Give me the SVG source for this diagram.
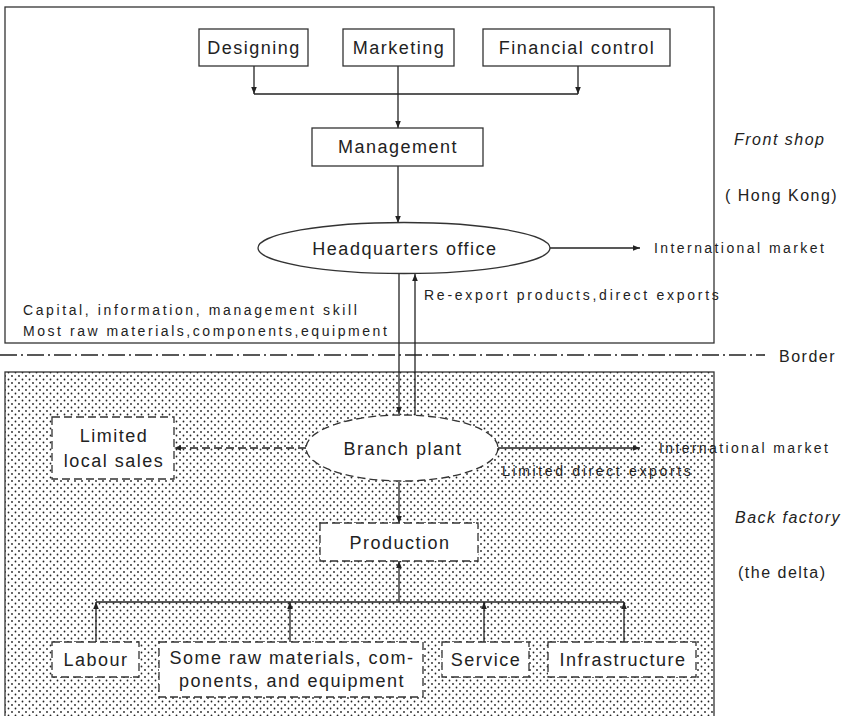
<svg xmlns="http://www.w3.org/2000/svg" width="867" height="716" viewBox="0 0 867 716">
<defs>
<pattern id="dots" width="7" height="7" patternUnits="userSpaceOnUse">
<circle cx="1.5" cy="1.5" r="0.9" fill="#222"/>
<circle cx="5" cy="5" r="0.9" fill="#222"/>
</pattern>
<marker id="ah" viewBox="0 0 10 10" refX="10" refY="5" markerWidth="9" markerHeight="7" markerUnits="userSpaceOnUse" orient="auto">
<path d="M0,1 L10,5 L0,9 Z" fill="#222"/>
</marker>
</defs>
<style>
.t{font-family:"Liberation Sans",Arial,sans-serif;fill:#222}
.n{font-size:18px;letter-spacing:1.5px}
.s{font-size:14px;letter-spacing:1.2px}
.i{font-style:italic;font-size:16px;letter-spacing:1.5px}
.box{fill:#fff;stroke:#333;stroke-width:1.3}
.dbox{fill:#fff;stroke:#333;stroke-width:1.3;stroke-dasharray:8 4}
.ln{fill:none;stroke:#222;stroke-width:1.3}
.dln{fill:none;stroke:#222;stroke-width:1.3;stroke-dasharray:8 4}
</style>
<rect width="867" height="716" fill="#fff"/>

<g id="regions">
<rect x="5" y="7" width="709" height="336" fill="none" stroke="#333" stroke-width="1.3"/>
<rect x="5" y="372" width="709" height="350" fill="url(#dots)" stroke="#333" stroke-width="1.3"/>
<line x1="0" y1="355" x2="765" y2="355" stroke="#222" stroke-width="1.6" stroke-dasharray="17 4 2 4"/>
<text class="t" x="779" y="362" font-size="16" letter-spacing="1.5">Border</text>
<text class="t i" x="734" y="145">Front shop</text>
<text class="t" x="725" y="201" font-size="16" letter-spacing="1.5">( Hong Kong)</text>
<text class="t i" x="735" y="523">Back factory</text>
<text class="t" x="738" y="578" font-size="16" letter-spacing="1.5">(the delta)</text>
</g>

<g id="connectors">
<line class="ln" x1="254" y1="66" x2="254" y2="94" marker-end="url(#ah)"/>
<line class="ln" x1="578" y1="66" x2="578" y2="94" marker-end="url(#ah)"/>
<line class="ln" x1="254" y1="94" x2="578" y2="94"/>
<line class="ln" x1="398" y1="66" x2="398" y2="128" marker-end="url(#ah)"/>
<line class="ln" x1="398" y1="166" x2="398" y2="223" marker-end="url(#ah)"/>
<line class="ln" x1="550" y1="248" x2="640" y2="248" marker-end="url(#ah)"/>
<line class="ln" x1="399" y1="274" x2="399" y2="414" marker-end="url(#ah)"/>
<line class="ln" x1="415" y1="416" x2="415" y2="274" marker-end="url(#ah)"/>
<line class="dln" x1="306" y1="448" x2="174" y2="448" marker-end="url(#ah)"/>
<line class="ln" x1="498" y1="448" x2="640" y2="448" marker-end="url(#ah)"/>
<line class="ln" x1="399" y1="482" x2="399" y2="523" marker-end="url(#ah)"/>
<line class="ln" x1="399" y1="602" x2="399" y2="561" marker-end="url(#ah)"/>
<line class="ln" x1="96" y1="602" x2="624" y2="602"/>
<line class="ln" x1="96" y1="642" x2="96" y2="602" marker-end="url(#ah)"/>
<line class="ln" x1="290" y1="642" x2="290" y2="602" marker-end="url(#ah)"/>
<line class="ln" x1="484" y1="642" x2="484" y2="602" marker-end="url(#ah)"/>
<line class="ln" x1="624" y1="642" x2="624" y2="602" marker-end="url(#ah)"/>
</g>

<g id="labels">
<text class="t s" x="654" y="253" textLength="171">International market</text>
<text class="t s" x="424" y="300" textLength="296">Re-export products,direct exports</text>
<text class="t s" x="23" y="315" textLength="335">Capital, information, management skill</text>
<text class="t s" x="23" y="336" textLength="365">Most raw materials,components,equipment</text>
<text class="t s" x="659" y="453" textLength="170">International market</text>
<text class="t s" x="502" y="476" textLength="190">Limited direct exports</text>
</g>

<g id="designing">
<rect class="box" x="199" y="29" width="109" height="37"/>
<text class="t n" x="254" y="54" text-anchor="middle">Designing</text>
</g>
<g id="marketing">
<rect class="box" x="343" y="29" width="111" height="37"/>
<text class="t n" x="399" y="54" text-anchor="middle">Marketing</text>
</g>
<g id="financial">
<rect class="box" x="483" y="29" width="187" height="37"/>
<text class="t n" x="577" y="54" text-anchor="middle">Financial control</text>
</g>
<g id="management">
<rect class="box" x="312" y="128" width="171" height="38"/>
<text class="t n" x="398" y="153" text-anchor="middle">Management</text>
</g>
<g id="hq">
<ellipse class="box" cx="404" cy="248" rx="146" ry="25.5"/>
<text class="t n" x="405" y="255" text-anchor="middle">Headquarters office</text>
</g>
<g id="branch">
<ellipse class="dbox" cx="402" cy="448" rx="96" ry="33"/>
<text class="t n" x="403" y="455" text-anchor="middle">Branch plant</text>
</g>
<g id="localsales">
<rect class="dbox" x="52" y="417" width="122" height="62"/>
<text class="t n" x="114" y="442" text-anchor="middle">Limited</text>
<text class="t n" x="114" y="467" text-anchor="middle">local sales</text>
</g>
<g id="production">
<rect class="dbox" x="320" y="523" width="158" height="38"/>
<text class="t n" x="400" y="549" text-anchor="middle">Production</text>
</g>
<g id="labour">
<rect class="dbox" x="52" y="642" width="87" height="35"/>
<text class="t n" x="96" y="666" text-anchor="middle">Labour</text>
</g>
<g id="rawmaterials">
<rect class="dbox" x="159" y="642" width="264" height="55"/>
<text class="t n" x="292" y="664" text-anchor="middle">Some raw materials, com-</text>
<text class="t n" x="292" y="687" text-anchor="middle">ponents, and equipment</text>
</g>
<g id="service">
<rect class="dbox" x="442" y="642" width="87" height="35"/>
<text class="t n" x="486" y="666" text-anchor="middle">Service</text>
</g>
<g id="infrastructure">
<rect class="dbox" x="548" y="642" width="148" height="35"/>
<text class="t n" x="623" y="666" text-anchor="middle">Infrastructure</text>
</g>
</svg>
